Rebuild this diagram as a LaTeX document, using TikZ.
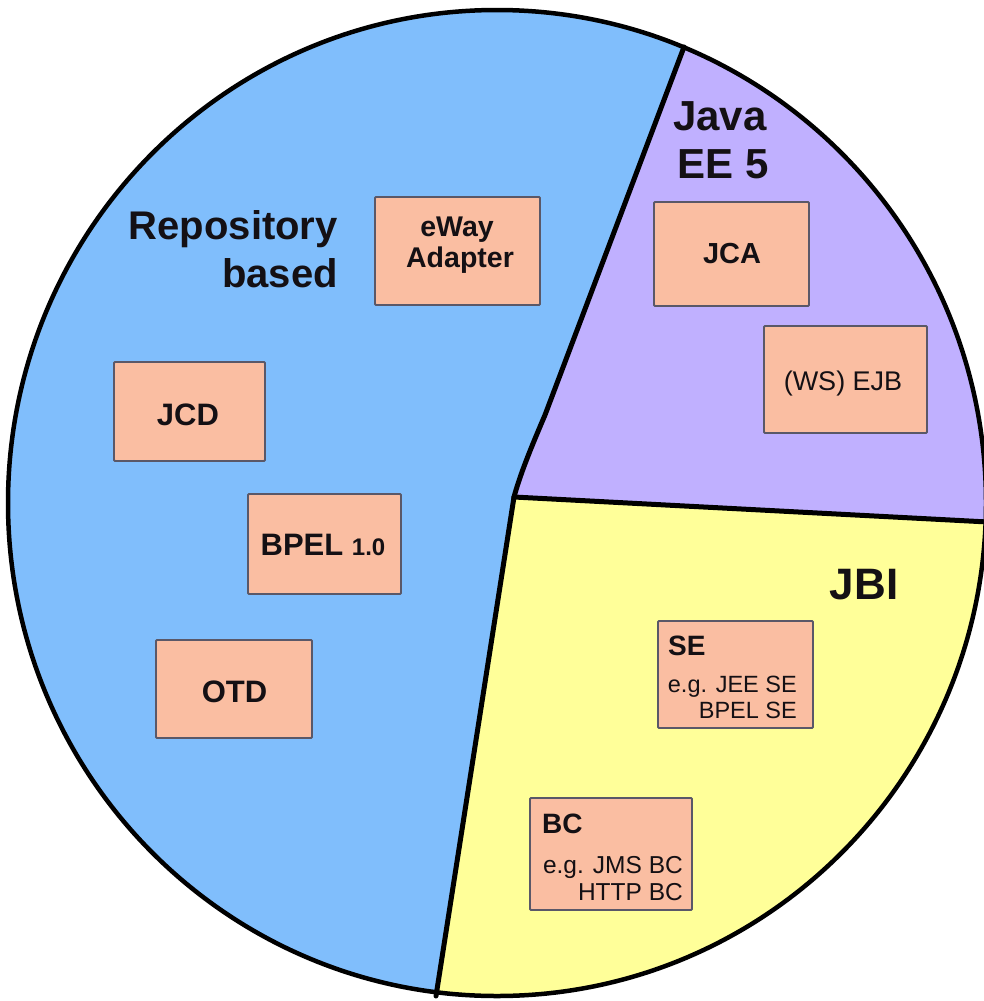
\documentclass[tikz,border=0pt]{standalone}
\usepackage{fontspec}
\setmainfont{Liberation Sans}
\definecolor{repoblue}{RGB}{128,190,252}
\definecolor{javapurple}{RGB}{192,176,255}
\definecolor{jbiyellow}{RGB}{255,255,153}
\definecolor{boxfill}{RGB}{250,190,162}
\definecolor{boxline}{RGB}{90,88,104}
\definecolor{ink}{RGB}{20,16,20}
\begin{document}
\begin{tikzpicture}[x=1pt,y=-1pt,
  box/.style={draw=boxline, line width=1.8pt, fill=boxfill, rounded corners=1pt, inner sep=0pt},
  lbl/.style={text=ink, font=\bfseries\fontsize{40}{48}\selectfont, inner sep=0pt},
  btxt/.style={text=ink, font=\bfseries\fontsize{30}{34}\selectfont, inner sep=0pt},
  stxt/.style={text=ink, font=\fontsize{23.5}{28}\selectfont, inner sep=0pt},
  divider/.style={line width=5pt, line cap=round, line join=round}]
\useasboundingbox (0,0) rectangle (984,1001);
\fill[white] (0,0) rectangle (984,1001);
\coordinate (C) at (497,503);
\coordinate (J) at (514,497);
\coordinate (T) at (684,47);
\coordinate (R) at (988,522);
\coordinate (B) at (436,996);
\begin{scope}
  \clip (C) ellipse [x radius=489, y radius=493];
  \fill[repoblue] (C) ellipse [x radius=489, y radius=493];
  \fill[javapurple] (J) .. controls (520,475) and (530,450) .. (545,415) -- (T) -- (705.5,-10) -- (1050,-10) -- (1050,525.3) -- cycle;
  \fill[jbiyellow] (J) -- (1050,525.3) -- (1050,1060) -- (426,1060) -- cycle;
\end{scope}
\draw[divider] (J) .. controls (520,475) and (530,450) .. (545,415) -- (T);
\draw[divider] (J) -- (R);
\draw[divider] (J) -- (B);
\draw[line width=4.5pt] (C) ellipse [x radius=489, y radius=493];

% section labels
\node[lbl, anchor=base east] (repo1) at (338,239) {Repository};
\node[lbl, anchor=base east] (repo2) at (338,287) {based};
\node[lbl, font=\bfseries\fontsize{42}{48}\selectfont, anchor=base] (java1) at (720,130) {Java};
\node[lbl, font=\bfseries\fontsize{42}{48}\selectfont, anchor=base] (java2) at (723,178) {EE 5};
\node[lbl, font=\bfseries\fontsize{44}{48}\selectfont, anchor=base] (jbi) at (864,599) {JBI};

% boxes
\node[box, minimum width=165, minimum height=108] (eway) at (457.5,251) {};
\node[btxt, font=\bfseries\fontsize{28.5}{34}\selectfont, anchor=base] (eway1) at (457,236) {eWay};
\node[btxt, font=\bfseries\fontsize{28.5}{34}\selectfont, anchor=base] (eway2) at (460,267) {Adapter};

\node[box, minimum width=155, minimum height=104] (jca) at (731.5,254) {};
\node[btxt, font=\bfseries\fontsize{29}{34}\selectfont, anchor=base] (jcat) at (732,263) {JCA};

\node[box, minimum width=163, minimum height=107] (ejb) at (845.5,379.5) {};
\node[stxt, font=\fontsize{27}{30}\selectfont, anchor=base] (ejbt) at (843,390) {(WS) EJB};

\node[box, minimum width=151, minimum height=99] (jcd) at (189.5,411.5) {};
\node[btxt, font=\bfseries\fontsize{31}{34}\selectfont, anchor=base] (jcdt) at (188,425) {JCD};

\node[box, minimum width=153, minimum height=100] (bpel) at (324.5,544) {};
\node[btxt, font=\bfseries\fontsize{31}{34}\selectfont, anchor=base] (bpelt) at (323,555) {BPEL {\fontsize{24}{28}\selectfont 1.0}};

\node[box, minimum width=156, minimum height=98] (otd) at (234,689) {};
\node[btxt, font=\bfseries\fontsize{31}{34}\selectfont, anchor=base] (otdt) at (234.5,702) {OTD};

\node[box, minimum width=155, minimum height=107] (se) at (735.5,674.5) {};
\node[btxt, font=\bfseries\fontsize{28}{34}\selectfont, anchor=base west] (set) at (668,655) {SE};
\node[stxt, anchor=base east] (se1) at (797,692) {e.g. JEE SE};
\node[stxt, anchor=base east] (se2) at (797,718) {BPEL SE};

\node[box, minimum width=162, minimum height=112] (bc) at (611,854) {};
\node[btxt, font=\bfseries\fontsize{28}{34}\selectfont, anchor=base west] (bct) at (542,833) {BC};
\node[stxt, font=\fontsize{24.5}{28}\selectfont, anchor=base east] (bc1) at (683,873) {e.g. JMS BC};
\node[stxt, font=\fontsize{24.5}{28}\selectfont, anchor=base east] (bc2) at (683,900) {HTTP BC};
\end{tikzpicture}
\end{document}
